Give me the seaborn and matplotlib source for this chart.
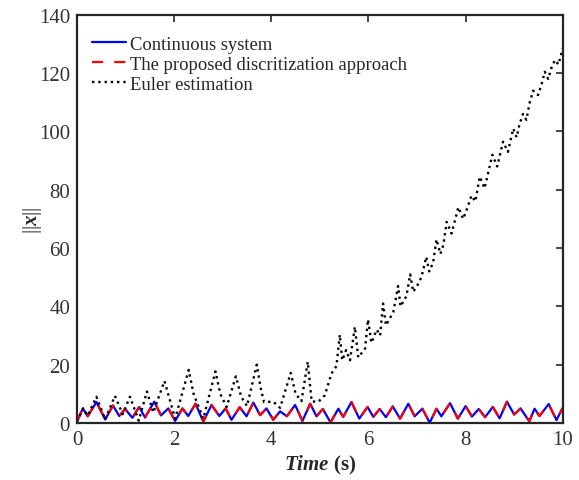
import pandas as pd
import seaborn as sns
import matplotlib.pyplot as plt

# continuous system response (extrema only)
t_sys = [0.00, 0.12, 0.22, 0.40, 0.58, 0.74, 0.87, 0.99, 1.14, 1.28, 1.40, 1.59, 1.73, 1.88,
         2.02, 2.17, 2.29, 2.44, 2.60, 2.77, 2.93, 3.06, 3.18, 3.35, 3.49, 3.63, 3.77, 3.90,
         4.04, 4.18, 4.32, 4.49, 4.64, 4.80, 4.93, 5.06, 5.22, 5.38, 5.48, 5.65, 5.81, 5.98,
         6.10, 6.23, 6.36, 6.50, 6.65, 6.82, 6.95, 7.11, 7.26, 7.40, 7.50, 7.68, 7.84, 8.00,
         8.13, 8.27, 8.40, 8.56, 8.70, 8.85, 9.00, 9.13, 9.31, 9.42, 9.52, 9.71, 9.87, 10.0]
x_sys = [0.5, 5.0, 2.3, 7.2, 1.2, 6.0, 2.4, 4.8, 1.8, 5.5, 1.9, 7.3, 2.6, 5.0,
         0.7, 5.0, 2.4, 6.6, 0.5, 6.2, 2.4, 5.0, 1.1, 5.4, 2.3, 7.0, 2.7, 5.0,
         1.1, 4.0, 2.3, 6.2, 0.7, 6.6, 2.3, 4.8, 0.2, 4.9, 2.1, 7.2, 1.5, 5.5,
         2.1, 4.8, 2.0, 5.7, 1.5, 6.6, 2.3, 4.9, 0.1, 4.9, 2.3, 6.8, 1.5, 5.8,
         2.2, 4.8, 2.0, 5.5, 1.6, 7.3, 2.9, 5.0, 0.6, 4.9, 2.4, 6.5, 1.0, 5.2]

# proposed discretization sits on top of the continuous curve
t_prop = list(t_sys)
x_prop = list(x_sys)

# Euler estimation
t_euler = [0.00, 0.13, 0.22, 0.40, 0.58, 0.78, 0.94, 1.09, 1.27, 1.44, 1.57, 1.80, 2.02,
           2.30, 2.40, 2.60, 2.85, 2.95, 3.08, 3.27, 3.38, 3.50, 3.70, 3.78, 3.85, 4.04,
           4.18, 4.40, 4.50, 4.62, 4.75, 4.83, 4.97, 5.10, 5.24, 5.34, 5.41, 5.46, 5.54,
           5.62, 5.72, 5.79, 5.93, 5.99, 6.06, 6.17, 6.24, 6.30, 6.36, 6.51, 6.61, 6.66,
           6.78, 6.86, 6.92, 7.00, 7.09, 7.19, 7.25, 7.33, 7.40, 7.48, 7.54, 7.61, 7.71,
           7.85, 7.95, 8.04, 8.12, 8.20, 8.29, 8.39, 8.55, 8.65, 8.77, 8.87, 8.98, 9.05,
           9.11, 9.18, 9.25, 9.32, 9.39, 9.49, 9.56, 9.63, 9.70, 9.77, 9.84, 9.91, 10.0]
x_euler = [0.5, 5.0, 2.5, 9.0, 1.2, 9.3, 3.0, 9.0, 0.8, 10.8, 3.6, 14.4, 1.5,
           18.2, 10.0, 1.5, 17.7, 10.0, 5.5, 16.0, 9.0, 5.8, 20.0, 12.0, 7.2, 7.3,
           5.2, 17.2, 10.0, 7.5, 21.0, 7.4, 7.3, 9.5, 17.0, 19.5, 30.3, 21.5, 25.0,
           21.5, 33.0, 22.5, 25.5, 35.5, 27.5, 32.0, 30.0, 41.0, 33.5, 38.0, 47.0, 40.0,
           43.5, 51.0, 45.0, 47.0, 50.0, 57.0, 52.0, 55.0, 63.0, 58.0, 61.0, 69.0, 65.0,
           74.0, 70.0, 74.0, 78.0, 76.0, 84.5, 80.5, 92.0, 88.0, 96.5, 93.0, 101.0, 98.0,
           102.5, 106.0, 104.0, 110.0, 114.0, 112.5, 116.0, 120.5, 118.0, 122.0, 124.5, 123.0, 128.5]

sns.set_style("white")
plt.rcParams['font.family'] = ['Liberation Serif', 'DejaVu Serif']
plt.rcParams['mathtext.fontset'] = 'custom'
plt.rcParams['mathtext.rm'] = 'Liberation Serif'
plt.rcParams['mathtext.it'] = 'Liberation Serif:italic:bold'

fig, ax = plt.subplots(figsize=(5.79, 4.81), dpi=100)
fig.subplots_adjust(left=0.133, right=0.972, bottom=0.1185, top=0.967)

sys_df = pd.DataFrame({'t': t_sys, 'x': x_sys})
prop_df = pd.DataFrame({'t': t_prop, 'x': x_prop})
euler_df = pd.DataFrame({'t': t_euler, 'x': x_euler})

sns.lineplot(data=sys_df, x='t', y='x', color='#0000ff', linewidth=1.6,
             estimator=None, label='Continuous system', ax=ax)
sns.lineplot(data=prop_df, x='t', y='x', color='#ff0000', linewidth=1.6, linestyle='--',
             estimator=None, label='The proposed discritization approach', ax=ax)
ax.lines[-1].set_dashes((5, 5))
sns.lineplot(data=euler_df, x='t', y='x', color='black', linewidth=1.7, linestyle=':',
             estimator=None, label='Euler estimation', ax=ax)

ax.set_xlim(0, 10)
ax.set_ylim(0, 140)
ax.set_xticks(range(0, 11, 2))
ax.set_yticks(range(0, 141, 20))
ax.tick_params(direction='in', top=True, right=True, length=5, width=1.2,
               labelsize=15, pad=5, colors='#262626', labelcolor='#333333')
for s in ax.spines.values():
    s.set_linewidth(1.6)
    s.set_color('#262626')

ax.set_xlabel(r'$Time$ (s)', fontsize=15, fontweight='bold', labelpad=3)
ax.set_ylabel(r'||$x$||', fontsize=15, labelpad=-4)

ax.legend(loc='upper left', bbox_to_anchor=(0.0, 0.985), frameon=False, fontsize=13.4,
          handlelength=1.85, handletextpad=0.2, labelspacing=0.15, borderpad=0.3)

plt.savefig("out.png", dpi=100)
